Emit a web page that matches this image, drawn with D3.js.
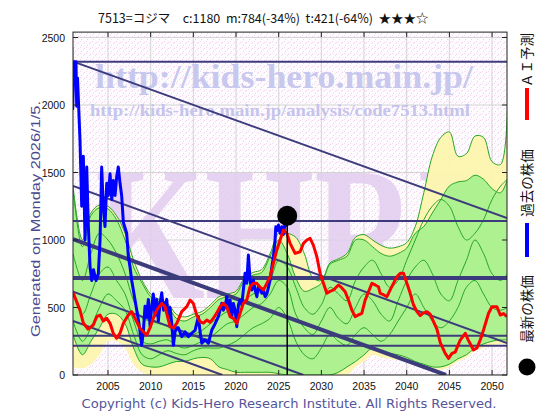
<!DOCTYPE html>
<html><head><meta charset="utf-8">
<script src="https://cdn.jsdelivr.net/npm/d3@7"></script>
<style>html,body{margin:0;padding:0;background:#fff;}svg{display:block;}</style>
</head><body>
<svg id="chart" width="560" height="420"></svg>
<script>
// ---------- DATA ----------
const titleText = "7513=コジマ　c:1180  m:784(-34%)  t:421(-64%)  ★★★☆";
const generatedText = "Generated on Monday 2026/1/5.";
const copyrightText = "Copyright (c) Kids-Hero Research Institute. All Rights Reserved.";
const legendLabels = ["ＡＩ予測", "過去の株価", "最新の株価"];
const xTickYears = [2005, 2010, 2015, 2020, 2025, 2030, 2035, 2040, 2045, 2050];
const yTickValues = [0, 500, 1000, 1500, 2000, 2500];

const blueYears = [2000.86,2001.02,2001.25,2001.33,2001.43,2001.72,2001.92,2002.11,2002.31,2002.51,2002.7,2002.9,2003.1,2003.3,2003.6,2003.87,2004.07,2004.26,2004.45,2004.65,2004.85,2005.04,2005.24,2005.44,2005.63,2005.83,2006.02,2006.21,2006.41,2006.6,2006.8,2007.19,2007.38,2007.58,2007.78,2007.97,2008.37,2008.56,2008.76,2008.95,2009.14,2009.34,2009.54,2009.73,2009.93,2010.13,2010.31,2010.51,2010.71,2010.9,2011.1,2011.3,2011.5,2011.88,2012.07,2012.27,2012.47,2012.66,2012.86,2013.06,2013.24,2013.64,2014.03,2014.42,2014.82,2015.2,2015.59,2015.79,2015.99,2016.37,2016.76,2017.16,2017.55,2017.93,2018.33,2018.52,2018.72,2018.92,2019.11,2019.31,2019.5,2019.69,2019.89,2020.09,2020.28,2020.48,2020.68,2020.86,2021.06,2021.26,2021.45,2021.65,2021.85,2022.04,2022.24,2022.44,2022.63,2022.82,2023.02,2023.21,2023.41,2023.61,2023.8,2024.0,2024.2,2024.38,2024.58,2024.66,2024.8,2024.97,2025.17,2025.37,2025.55,2025.75,2025.95];
const blueValues = [1963,2320,2320,1990,2200,1740,1250,1620,1000,1540,1100,800,700,780,700,750,1000,1540,1250,1100,1420,1330,1490,1300,1440,1330,1470,1540,1420,1330,1130,1050,880,800,700,630,480,410,320,220,320,510,430,560,360,510,600,440,560,400,530,610,480,560,420,500,380,220,320,350,350,284,320,284,310,330,432,320,235,260,235,333,380,432,531,480,506,580,480,555,430,530,480,358,520,555,520,630,753,680,889,700,630,704,630,580,660,640,605,630,580,600,650,704,802,876,1000,1098,1070,1111,1050,1098,1040,1123,1100];

const blackStartYears = [2000.86];
const blackStartValues = [2430];

const redYears = [2000.93,2001.72,2002.11,2002.66,2003.28,2003.68,2004.07,2004.45,2004.85,2005.24,2005.62,2006.02,2006.41,2006.8,2007.38,2007.78,2008.17,2008.75,2009.14,2009.54,2009.93,2010.31,2010.71,2011.3,2011.69,2012.27,2012.66,2013.06,2013.64,2014.23,2014.62,2015.0,2015.4,2015.79,2016.18,2016.57,2016.96,2017.35,2017.75,2018.13,2018.52,2018.92,2019.31,2019.69,2020.09,2020.48,2020.86,2021.26,2021.65,2022.04,2022.44,2022.82,2023.21,2023.61,2024.0,2024.38,2024.78,2025.17,2025.55,2025.95,2026.34,2026.93,2027.51,2027.9,2028.3,2028.68,2029.07,2029.47,2029.86,2030.24,2030.64,2031.03,2031.42,2032.0,2032.4,2032.79,2033.17,2033.57,2033.96,2034.35,2034.74,2035.13,2035.52,2035.92,2036.3,2036.69,2036.89,2037.28,2037.68,2038.06,2038.45,2038.85,2039.24,2039.62,2040.02,2040.41,2040.79,2041.19,2041.58,2041.97,2042.37,2042.75,2043.14,2043.54,2043.93,2044.51,2044.9,2045.3,2045.68,2046.27,2046.86,2047.2,2047.83,2048.23,2048.61,2049.0,2049.59,2049.99,2050.57,2050.96,2051.35,2051.74];
const redValues = [607,481,385,340,370,432,444,400,420,383,309,272,310,383,444,469,420,346,320,296,350,420,481,531,505,358,350,383,470,506,555,530,444,395,385,407,390,420,460,506,531,506,432,420,383,457,531,555,654,679,679,650,630,679,728,827,926,1000,1074,1050,975,901,913,975,1000,1012,960,876,753,679,605,620,630,667,645,617,555,481,432,445,457,555,617,679,667,654,605,595,580,630,679,728,753,753,679,605,520,470,440,460,469,450,395,340,240,160,123,160,170,259,309,260,185,200,259,333,457,506,506,444,455,432];

const bandYears = [2000.9,2002,2003,2004,2005,2006,2007,2008,2009,2010,2011,2012,2013,2014,2015,2016,2017,2018,2019,2020,2021,2022,2023,2024,2025,2026,2027,2028,2029,2030,2031,2032,2033,2034,2035,2036,2037,2038,2039,2040,2041,2042,2043,2044,2045,2046,2047,2048,2049,2050,2051,2051.8];
const yellowHigh = [1400,1000,1200,1260,1250,1180,1050,850,700,600,560,530,450,430,450,470,520,580,600,620,720,760,780,900,1050,1050,1020,900,720,700,830,860,900,1020,1040,1000,960,940,950,980,1100,1350,1620,1760,1800,1620,1640,1770,1760,1580,1560,1980];
const greenHigh = [1380,950,1180,1240,1230,1150,1000,800,680,580,540,510,420,400,430,450,500,560,580,600,700,740,760,880,1000,900,720,620,640,680,820,850,880,1000,1000,950,900,880,900,940,1050,1100,1200,1300,1400,1430,1440,1480,1450,1380,1350,1450];
const greenLow = [300,150,250,350,450,450,380,200,80,60,60,80,100,100,120,130,120,60,40,20,20,20,20,20,10,0,0,0,0,0,0,20,60,100,150,200,180,160,150,130,100,80,60,60,80,120,150,200,230,250,260,260];
const yellowLow = [60,50,80,150,250,250,200,80,20,0,0,0,0,0,0,0,0,0,0,0,0,0,0,0,0,0,0,0,0,0,0,0,0,60,100,150,130,120,110,100,80,60,40,40,60,100,130,180,200,220,230,230];
const greenLineA = [900,700,900,1050,1000,900,750,550,420,400,380,360,300,280,300,330,380,430,470,480,550,600,620,700,850,800,650,500,450,520,650,600,550,700,800,850,750,650,700,850,1000,1150,1250,1300,1250,1100,1000,1050,1150,1300,1400,1450];
const greenLineB = [600,450,600,750,800,700,600,400,250,230,250,260,220,200,220,250,280,330,380,400,450,500,530,600,700,650,450,350,300,400,500,420,380,500,600,550,450,400,550,700,800,850,750,600,550,700,850,1000,900,750,700,750];
const greenLineC = [400,250,350,500,600,550,480,300,150,120,150,180,160,150,180,200,200,200,220,250,300,350,380,420,500,420,250,150,120,200,300,250,220,300,350,300,250,300,400,500,600,500,400,350,400,500,650,700,600,500,480,500];

const levelValues = [2320, 1140, 718, 291, 217];
const trendStartYears = [2001.1, 2000.9, 2000.9, 2000.9, 2000.9];
const trendStartValues = [2318, 1400, 1007, 617, 400];
const trendEndYears = [2051.75, 2051.75, 2044.6, 2027.9, 2018.4];
const trendEndValues = [1163, 237, 0, 0, 0];
const latestYear = 2026.0;
const latestValue = 1180;

// ---------- STYLES ----------
const levelWidths = [2, 2, 4, 2, 2];
const trendWidths = [2, 2, 4, 2, 2];
const navy = "#3c3c7c";

// ---------- CHART ----------
const svg = d3.select("#chart");
const x = d3.scaleLinear().domain([2000.9, 2051.75]).range([73, 507]);
const y = d3.scaleLinear().domain([0, 2500]).range([375, 37.5]);
const yTop = 2540;
const L = x(2000.9), R = x(2051.75), T = y(yTop), B = y(0);

const defs = svg.append("defs");
const pat = defs.append("pattern").attr("id","bg").attr("width",6).attr("height",6).attr("patternUnits","userSpaceOnUse");
pat.append("rect").attr("width",6).attr("height",6).attr("fill","#fefbfe");
[[0,0,"#f0cdea"],[3,3,"#dcdce4"],[5,1,"#f5def2"],[2,5,"#f3d6ef"]].forEach(d=>pat.append("rect").attr("x",d[0]).attr("y",d[1]).attr("width",1).attr("height",1).attr("fill",d[2]));
defs.append("clipPath").attr("id","clip").append("rect").attr("x",L).attr("y",T).attr("width",R-L).attr("height",B-T);

svg.append("rect").attr("x",L).attr("y",T).attr("width",R-L).attr("height",B-T).attr("fill","url(#bg)");

const plot = svg.append("g").attr("clip-path","url(#clip)");

// grid
plot.selectAll(".gx").data(xTickYears).enter().append("line")
  .attr("x1",d=>x(d)).attr("x2",d=>x(d)).attr("y1",T).attr("y2",B)
  .attr("stroke","#d4d4d4").attr("stroke-width",1);
plot.selectAll(".gy").data(yTickValues).enter().append("line")
  .attr("x1",L).attr("x2",R).attr("y1",d=>y(d)).attr("y2",d=>y(d))
  .attr("stroke","#d4d4d4").attr("stroke-width",1);

// watermarks (behind data)
const wm = plot.append("g").attr("pointer-events","none");
wm.append("text").attr("x",283).attr("y",298).attr("text-anchor","middle")
  .attr("font-family","'Liberation Serif', serif").attr("font-weight","bold").attr("font-size",190)
  .attr("textLength",375).attr("lengthAdjust","spacingAndGlyphs")
  .attr("fill","#e2cdef").attr("opacity",0.85).text("KHRI");
wm.append("text").attr("x",284).attr("y",88).attr("text-anchor","middle")
  .attr("font-family","'Liberation Serif', serif").attr("font-weight","bold").attr("font-size",33)
  .attr("textLength",378).attr("lengthAdjust","spacingAndGlyphs")
  .attr("fill","#c8c8ee").text("http://kids-hero.main.jp/");
wm.append("text").attr("x",280).attr("y",116).attr("text-anchor","middle")
  .attr("font-family","'Liberation Serif', serif").attr("font-weight","bold").attr("font-size",17)
  .attr("textLength",380).attr("lengthAdjust","spacingAndGlyphs")
  .attr("fill","#c4c4ec").text("http://kids-hero.main.jp/analysis/code7513.html");
wm.append("text").attr("x",284).attr("y",337).attr("text-anchor","middle")
  .attr("font-family","'Liberation Serif', serif").attr("font-weight","bold").attr("font-size",33)
  .attr("textLength",378).attr("lengthAdjust","spacingAndGlyphs")
  .attr("fill","#d4d4f0").text("http://kids-hero.main.jp/");

// bands
const idx = d3.range(bandYears.length);
const area = (lo, hi) => d3.area().x(i=>x(bandYears[i])).y0(i=>y(lo[i])).y1(i=>y(hi[i])).curve(d3.curveCatmullRom);
const lineOf = arr => d3.line().x(i=>x(bandYears[i])).y(i=>y(arr[i])).curve(d3.curveCatmullRom);
plot.append("path").attr("d",area(yellowLow,yellowHigh)(idx)).attr("fill","#fcf6ae").attr("opacity",0.95);
plot.append("path").attr("d",area(greenLow,greenHigh)(idx)).attr("fill","#aaf08e").attr("opacity",0.95);
[yellowHigh, greenHigh, greenLow, greenLineA, greenLineB, greenLineC].forEach(arr=>{
  plot.append("path").attr("d",lineOf(arr)(idx)).attr("fill","none").attr("stroke","#26a626").attr("stroke-width",1);
});

// level lines
plot.selectAll(".lv").data(levelValues).enter().append("line")
  .attr("x1",L).attr("x2",R).attr("y1",d=>y(d)).attr("y2",d=>y(d))
  .attr("stroke",navy).attr("stroke-width",(d,i)=>levelWidths[i]);
// trend lines
plot.selectAll(".tr").data(d3.range(trendStartYears.length)).enter().append("line")
  .attr("x1",i=>x(trendStartYears[i])).attr("y1",i=>y(trendStartValues[i]))
  .attr("x2",i=>x(trendEndYears[i])).attr("y2",i=>y(trendEndValues[i]))
  .attr("stroke",navy).attr("stroke-width",i=>trendWidths[i]);

// price lines
const ptLine = d3.line().x(d=>x(d[0])).y(d=>y(d[1]));
const bluePts = blueYears.map((v,i)=>[v, blueValues[i]]);
const blackPts = blackStartYears.map((v,i)=>[v, blackStartValues[i]]).concat(bluePts);
plot.append("path").attr("d",ptLine(blackPts)).attr("fill","none").attr("stroke","#111").attr("stroke-width",1);
plot.append("path").attr("d",ptLine(bluePts)).attr("fill","none").attr("stroke","#0000ff").attr("stroke-width",3).attr("stroke-linejoin","round");
const redPts = redYears.map((v,i)=>[v, redValues[i]]);
plot.append("path").attr("d",ptLine(redPts)).attr("fill","none").attr("stroke","#ff0000").attr("stroke-width",3).attr("stroke-linejoin","round");

// latest marker
plot.append("line").attr("x1",x(latestYear)).attr("x2",x(latestYear)).attr("y1",y(latestValue)).attr("y2",B)
  .attr("stroke","#000").attr("stroke-width",1.5);
svg.append("circle").attr("cx",x(latestYear)).attr("cy",y(latestValue)).attr("r",10).attr("fill","#000");

// frame + ticks
svg.append("rect").attr("x",L).attr("y",T).attr("width",R-L).attr("height",B-T).attr("fill","none").attr("stroke","#222").attr("stroke-width",1);
const tk = svg.append("g").attr("stroke","#222").attr("stroke-width",1);
xTickYears.forEach(v=>{
  tk.append("line").attr("x1",x(v)).attr("x2",x(v)).attr("y1",B).attr("y2",B-5);
  tk.append("line").attr("x1",x(v)).attr("x2",x(v)).attr("y1",T).attr("y2",T+5);
});
yTickValues.forEach(v=>{
  tk.append("line").attr("x1",L).attr("x2",L+5).attr("y1",y(v)).attr("y2",y(v));
  tk.append("line").attr("x1",R).attr("x2",R-5).attr("y1",y(v)).attr("y2",y(v));
});

// axis labels
const lab = "'Liberation Sans', Arial, sans-serif";
svg.selectAll(".xl").data(xTickYears).enter().append("text")
  .attr("x",d=>x(d)).attr("y",390).attr("text-anchor","middle")
  .attr("font-family",lab).attr("font-size",10.5).attr("fill","#111").text(d=>d);
svg.selectAll(".yl").data(yTickValues).enter().append("text")
  .attr("x",65).attr("y",d=>y(d)+4).attr("text-anchor","end")
  .attr("font-family",lab).attr("font-size",10.5).attr("fill","#111").text(d=>d);

// title
svg.append("text").attr("x",98).attr("y",23).attr("font-family","'Noto Sans CJK JP', sans-serif")
  .attr("font-size",12.5).attr("fill","#111").attr("xml:space","preserve").style("white-space","pre").text(titleText);

// left generated text
svg.append("text").attr("transform","translate(40,219) rotate(-90)").attr("text-anchor","middle")
  .attr("font-family","'Liberation Sans', Arial, sans-serif").attr("font-size",13.5).attr("fill","#4a4a8e")
  .attr("textLength",236).attr("lengthAdjust","spacingAndGlyphs").text(generatedText);

// copyright
svg.append("text").attr("x",289).attr("y",408).attr("text-anchor","middle")
  .attr("font-family","'DejaVu Sans', sans-serif").attr("font-size",13).attr("fill","#55559a")
  .attr("textLength",415).attr("lengthAdjust","spacingAndGlyphs").text(copyrightText);

// legend
const lgCenters = [60, 183, 309];
const lg = svg.append("g");
legendLabels.forEach((t,i)=>{
  lg.append("text").attr("transform",`translate(532,${lgCenters[i]}) rotate(-90)`).attr("text-anchor","middle")
    .attr("font-family","'Noto Sans CJK JP', sans-serif").attr("font-size",13.5).attr("fill","#111").text(t);
});
lg.append("rect").attr("x",525).attr("y",88).attr("width",4).attr("height",32).attr("fill","#ff0000");
lg.append("rect").attr("x",525).attr("y",223).attr("width",4).attr("height",34).attr("fill","#0000ff");
lg.append("circle").attr("cx",527).attr("cy",367).attr("r",8.5).attr("fill","#000");
</script>
</body></html>
